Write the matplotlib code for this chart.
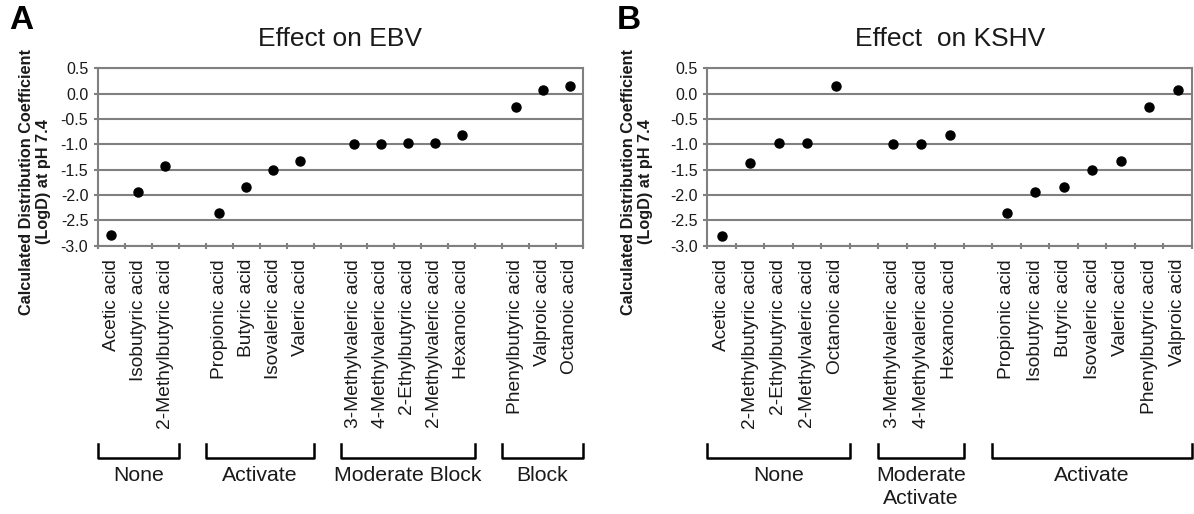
import numpy as np
import matplotlib
matplotlib.use("Agg")
import matplotlib.pyplot as plt
from matplotlib.lines import Line2D
from matplotlib.ticker import FixedLocator, StrMethodFormatter
import matplotlib.transforms as mtransforms

plt.rcParams['font.family'] = ['Liberation Sans', 'DejaVu Sans']
plt.rcParams['axes.unicode_minus'] = False

# Panel A - EBV
ebv_groups = ["None", "Activate", "Moderate Block", "Block"]
ebv_acids = [
    ["Acetic acid", "Isobutyric acid", "2-Methylbutyric acid"],
    ["Propionic acid", "Butyric acid", "Isovaleric acid", "Valeric acid"],
    ["3-Methylvaleric acid", "4-Methylvaleric acid", "2-Ethylbutyric acid",
     "2-Methylvaleric acid", "Hexanoic acid"],
    ["Phenylbutyric acid", "Valproic acid", "Octanoic acid"],
]
ebv_logd = [
    [-2.79, -1.95, -1.43],
    [-2.36, -1.84, -1.51, -1.33],
    [-0.99, -0.99, -0.97, -0.97, -0.82],
    [-0.26, 0.07, 0.16],
]

# Panel B - KSHV
kshv_groups = ["None", "Moderate\nActivate", "Activate"]
kshv_acids = [
    ["Acetic acid", "2-Methylbutyric acid", "2-Ethylbutyric acid",
     "2-Methylvaleric acid", "Octanoic acid"],
    ["3-Methylvaleric acid", "4-Methylvaleric acid", "Hexanoic acid"],
    ["Propionic acid", "Isobutyric acid", "Butyric acid", "Isovaleric acid",
     "Valeric acid", "Phenylbutyric acid", "Valproic acid"],
]
kshv_logd = [
    [-2.81, -1.37, -0.97, -0.97, 0.16],
    [-0.99, -0.99, -0.82],
    [-2.36, -1.95, -1.84, -1.51, -1.33, -0.26, 0.07],
]

W, H = 1194, 514
fig = plt.figure(figsize=(W / 100, H / 100), dpi=100)

GRAY = '#808080'
TXT = '#1a1a1a'


def px(y):
    # figure fraction from pixel row (top origin)
    return 1 - y / H


def draw_panel(left_px, right_px, groups, acids, logd, title, letter, letter_x, ylab_x):
    ax = fig.add_axes([left_px / W, px(245.7), (right_px - left_px) / W, (245.7 - 68.3) / H])

    # slot positions: one empty slot between groups
    xs, labels, spans = [], [], []
    pos = 0
    for g, names in enumerate(acids):
        start = pos
        for n in names:
            xs.append(pos + 0.5)
            labels.append(n)
            pos += 1
        spans.append((start, pos))
        pos += 1
    nslots = pos - 1
    ys = [v for grp in logd for v in grp]

    ax.plot(xs, ys, 'o', color='black', markersize=6.5, zorder=3, clip_on=False)

    ax.set_xlim(0, nslots)
    ax.set_ylim(-3.0, 0.5)
    ax.yaxis.set_major_locator(FixedLocator(np.arange(-3.0, 0.51, 0.5)))
    ax.yaxis.set_major_formatter(StrMethodFormatter('{x:.1f}'))
    ax.yaxis.grid(True, color=GRAY, linewidth=1.5)
    ax.set_axisbelow(True)

    ax.xaxis.set_major_locator(FixedLocator(range(nslots + 1)))
    ax.xaxis.set_major_formatter(plt.NullFormatter())
    ax.xaxis.set_minor_locator(FixedLocator(xs))
    ax.set_xticklabels(labels, minor=True, rotation=90, fontsize=13.8, color=TXT)
    ax.tick_params(axis='x', which='major', direction='inout', length=5, width=1.5, color=GRAY)
    ax.tick_params(axis='x', which='minor', length=0, pad=9.5)
    ax.tick_params(axis='y', direction='out', length=3, width=1.5, color=GRAY,
                   labelsize=11.5, labelcolor=TXT, pad=4)
    for s in ax.spines.values():
        s.set_color(GRAY)
        s.set_linewidth(1.5)

    ax.text(0.5, 1.165, title, transform=ax.transAxes, ha='center', va='center',
            fontsize=19, color=TXT)

    # group brackets below the labels
    trans = mtransforms.blended_transform_factory(ax.transData, fig.transFigure)
    for (a, b), name in zip(spans, groups):
        ax.add_line(Line2D([a, a, b, b], [px(444), px(458), px(458), px(444)],
                           transform=trans, color='black', linewidth=1.8, clip_on=False))
        ax.text((a + b) / 2, px(466), name, transform=trans, ha='center', va='top',
                fontsize=15.3, color=TXT, linespacing=1.3)

    fig.text(letter_x / W, px(5), letter, fontsize=24, fontweight='bold', va='top', ha='left')
    fig.text(ylab_x / W, px(182), "Calculated Distribution Coefficient\n(LogD) at pH 7.4",
             rotation=90, ha='center', va='center', fontsize=11.7, fontweight='bold',
             color=TXT, linespacing=1.15)
    return ax


draw_panel(98, 583, ebv_groups, ebv_acids, ebv_logd, "Effect on EBV", "A", 9, 35)
draw_panel(707.3, 1192, kshv_groups, kshv_acids, kshv_logd, "Effect  on KSHV", "B", 617, 637)

fig.savefig("out.png", dpi=100)
